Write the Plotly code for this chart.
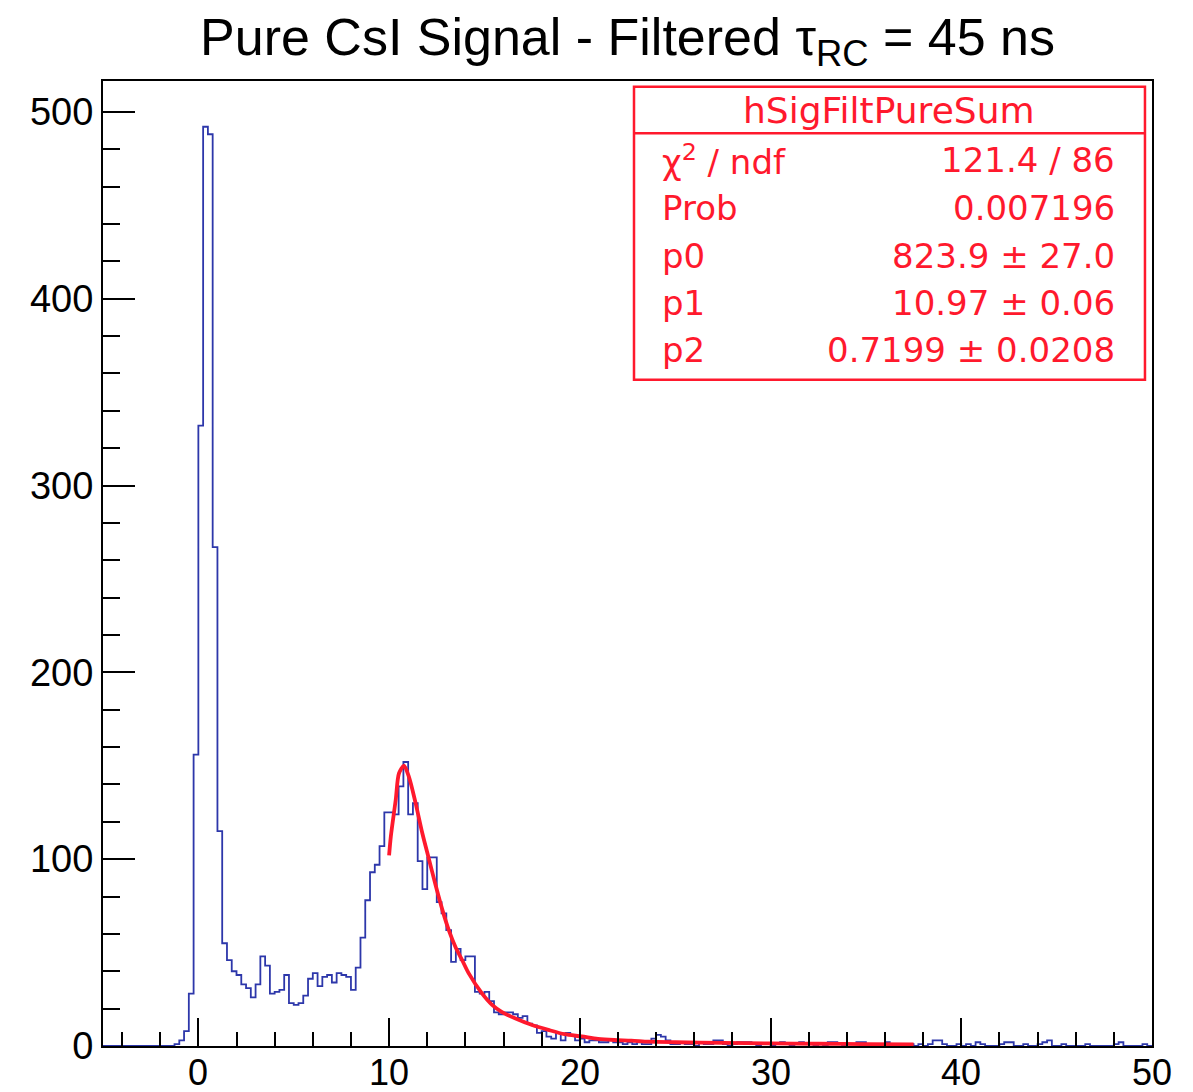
import plotly.graph_objects as go

# ---------------- data ----------------
bin_start = -5.0
bin_width = 0.25

counts = [
    # -5.0 .. -1.25
    0, 0, 0, 0, 0, 0, 0, 0, 0, 0, 0, 0, 0, 0, 0,
    # -1.25 .. 1.0
    1, 3, 8, 28, 156, 332, 492, 488, 267,
    # 1.0 .. 4.0
    115, 55, 46, 40, 38, 33, 31, 26, 33, 48, 43, 28,
    # 4.0 .. 7.0
    29, 30, 38, 23, 22, 23, 27, 36, 39, 32, 37, 38,
    # 7.0 .. 10.0
    34, 39, 38, 37, 30, 42, 58, 78, 93, 97, 107, 125,
    # 10.0 .. 13.0
    125, 124, 139, 152, 124, 130, 99, 84, 101, 101, 77, 71,
    # 13.0 .. 16.0
    62, 45, 52, 46, 48, 48, 29, 28, 29, 24, 18, 17,
    # 16.0 .. 19.0
    18, 18, 17, 15, 16, 12, 11, 7, 8, 5, 4, 7,
    # 19.0 .. 22.0
    3, 7, 6, 3, 4, 2, 3, 3, 2, 2, 3, 2,
    # 22.0 .. 25.0
    2, 1, 2, 1, 2, 1, 1, 4, 6, 5, 3, 1,
    # 25.0 .. 28.0
    1, 2, 1, 1, 0, 2, 1, 1, 3, 3, 1, 0,
    # 28.0 .. 31.0
    1, 2, 2, 2, 1, 0, 1, 1, 0, 1, 2, 1,
    # 31.0 .. 34.0
    0, 1, 2, 1, 1, 0, 1, 0, 2, 2, 1, 0,
    # 34.0 .. 37.0
    1, 1, 2, 2, 0, 1, 1, 0, 2, 1, 0, 1,
    # 37.0 .. 40.0
    0, 1, 0, 1, 0, 1, 3, 3, 1, 0, 0, 1,
    # 40.0 .. 43.0
    0, 1, 0, 2, 1, 0, 0, 0, 1, 2, 2, 0,
    # 43.0 .. 46.0
    0, 1, 0, 0, 1, 2, 3, 0, 0, 1, 0, 0,
    # 46.0 .. 49.0
    0, 0, 1, 0, 0, 0, 0, 0, 1, 2, 0, 0,
    # 49.0 .. 50.0
    0, 0, 1, 0,
]

fit_x = [10.0, 10.09, 10.35, 10.52, 10.78, 11.04, 11.39, 11.74, 12.09, 12.44,
         12.79, 13.13, 13.48, 13.83, 14.17, 14.88, 15.4, 15.9, 16.6, 17.5,
         18.35, 19.2, 20.1, 20.95, 21.8, 22.7, 23.6, 25.0, 27.5, 30.0,
         32.5, 35.0, 37.5]
fit_y = [102, 112, 132, 146, 150, 144, 130, 114, 100, 86,
         73, 62, 53, 46, 39, 28, 22, 18.3, 14.8, 11.2,
         8.6, 6.3, 5.1, 3.8, 3.2, 2.9, 2.3, 2.0, 1.7, 1.4,
         1.2, 1.0, 0.9]

x_ticks = [0, 10, 20, 30, 40, 50]
y_ticks = [0, 100, 200, 300, 400, 500]

title_text = "Pure CsI Signal - Filtered τ<sub>RC</sub> = 45 ns"
stats_name = "hSigFiltPureSum"
stats_labels = ["χ<sup>2</sup> / ndf", "Prob", "p0", "p1", "p2"]
stats_values = ["121.4 / 86", "0.007196", "823.9 ± 27.0", "10.97 ± 0.06", "0.7199 ± 0.0208"]

# ---------------- figure ----------------
edges = [bin_start + bin_width * i for i in range(len(counts) + 1)]
hist_y = counts + [counts[-1]]

BLUE = "rgb(45,55,170)"
RED = "rgb(255,25,45)"
FONT = "Liberation Sans, Arial, Helvetica, sans-serif"
STAT_FONT = "DejaVu Sans, Liberation Sans, sans-serif"

fig = go.Figure()
fig.add_trace(go.Scatter(
    x=edges, y=hist_y, mode="lines", line=dict(color=BLUE, width=1.8, shape="hv"),
    hoverinfo="skip", showlegend=False,
))
fig.add_trace(go.Scatter(
    x=fit_x, y=fit_y, mode="lines", line=dict(color=RED, width=3.8, shape="spline", smoothing=0.8),
    hoverinfo="skip", showlegend=False,
))

fig.update_layout(
    width=1193, height=1092,
    margin=dict(l=103, r=41, t=81, b=46, autoexpand=False),
    paper_bgcolor="white", plot_bgcolor="white",
    font=dict(family=FONT, color="black"),
    title=dict(text=title_text, font=dict(size=52, family=FONT, color="black"),
               x=0.5, xref="paper", xanchor="center",
               y=0.966, yref="container", yanchor="middle"),
)

fig.update_xaxes(
    range=[-5, 50], showgrid=False, zeroline=False, automargin=False,
    showline=True, linecolor="black", linewidth=2, mirror=True,
    tickmode="array", tickvals=x_ticks, ticks="inside", ticklen=28, tickwidth=1.5,
    tickcolor="black", showticklabels=False,
    minor=dict(ticks="inside", ticklen=14, tickwidth=1.5, tickcolor="black", dtick=2, tick0=0),
)
fig.update_yaxes(
    range=[0, 516.5], showgrid=False, zeroline=False, automargin=False,
    showline=True, linecolor="black", linewidth=2, mirror=True,
    tickmode="array", tickvals=y_ticks, ticks="inside", ticklen=32, tickwidth=1.5,
    tickcolor="black",
    minor=dict(ticks="inside", ticklen=17, tickwidth=1.5, tickcolor="black", dtick=20, tick0=0),
    tickfont=dict(size=38, family=FONT, color="black"),
)

# x tick labels placed under the axis (data x, paper y)
for xv in x_ticks:
    fig.add_annotation(text=str(xv), xref="x", yref="paper", x=xv, y=-0.0275,
                       xanchor="center", yanchor="middle", showarrow=False,
                       font=dict(size=36, family=FONT, color="black"))

# stats box
bx0, bx1 = 0.5062, 0.9933
by0, by1 = 0.6904, 0.9941
bdiv = 0.9458
fig.add_shape(type="rect", xref="paper", yref="paper", x0=bx0, x1=bx1, y0=by0, y1=by1,
              line=dict(color=RED, width=2.5), fillcolor="white", layer="above")
fig.add_shape(type="line", xref="paper", yref="paper", x0=bx0, x1=bx1, y0=bdiv, y1=bdiv,
              line=dict(color=RED, width=2.5), layer="above")

fig.add_annotation(text=stats_name, xref="paper", yref="paper", x=(bx0 + bx1) / 2, y=0.9699,
                   xanchor="center", yanchor="middle", showarrow=False,
                   font=dict(size=36, family=STAT_FONT, color=RED))
row_y = [0.9181, 0.8684, 0.8187, 0.7700, 0.7212]
for lab, val, yy in zip(stats_labels, stats_values, row_y):
    fig.add_annotation(text=lab, xref="paper", yref="paper", x=0.531, y=yy,
                       xanchor="left", yanchor="middle", showarrow=False,
                       font=dict(size=34, family=STAT_FONT, color=RED))
    fig.add_annotation(text=val, xref="paper", yref="paper", x=0.9667, y=yy,
                       xanchor="right", yanchor="middle", showarrow=False,
                       font=dict(size=34, family=STAT_FONT, color=RED))

fig.write_html("out.html")
